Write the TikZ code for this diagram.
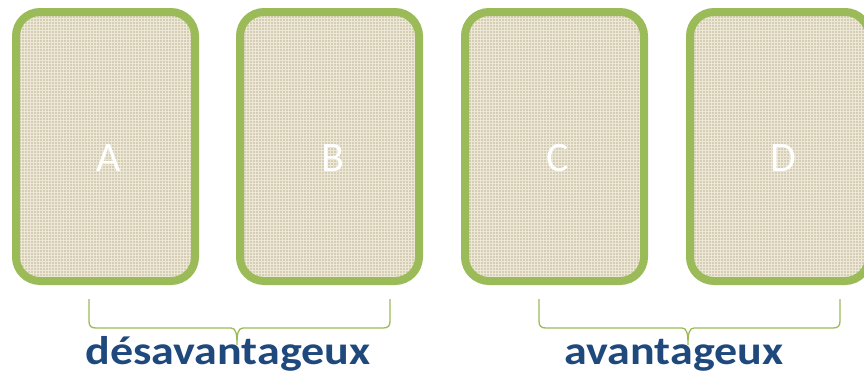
\documentclass[tikz,border=0pt]{standalone}
\usepackage{fontspec}
\setmainfont{Carlito}
\newfontfamily\widefont[FakeStretch=1.15]{Carlito}
\usetikzlibrary{patterns}
\definecolor{cardgreen}{HTML}{9BBB59}
\definecolor{cardfill}{HTML}{D6CDB6}
\definecolor{cardweave}{HTML}{EDE7D6}
\definecolor{labelblue}{HTML}{1F497D}
\begin{document}
\begin{tikzpicture}[x=1pt,y=-1pt,
	card/.style={draw=cardgreen,line width=8pt,rounded corners=24pt,
		preaction={fill=cardfill},pattern=grid,pattern color=cardweave,
		minimum width=179pt,minimum height=269pt,inner sep=0pt},
	letter/.style={text=white,font=\fontsize{42}{42}\selectfont,anchor=base},
	brace/.style={draw=cardgreen,line width=1.3pt},
	verdict/.style={text=labelblue,font=\widefont\fontsize{40}{40}\selectfont\bfseries,anchor=base}]
	\useasboundingbox (0,0) rectangle (864,375);
	\begin{scope}
		\clip (0,0) rectangle (864,375);
		\node[card] (cardA) at (105.5,146.5) {};
		\node[card] (cardB) at (329.5,146.5) {};
		\node[card] (cardC) at (554.5,146.5) {};
		\node[card] (cardD) at (779.5,146.5) {};
	\end{scope}
	\node[letter] (lblA) at (109,171) {A};
	\node[letter] (lblB) at (333,171) {B};
	\node[letter] (lblC) at (558,171) {C};
	\node[letter] (lblD) at (783,171) {D};
	%\draw (0,0) node[right]{Paires};
	\foreach \l/\m/\r in {89/237/390, 539/688/840}
		\draw[brace] (\l,299) -- (\l,321) .. controls (\l,326) and (\l+2,328) .. (\l+7,328)
			-- (\m-6,328) .. controls (\m-1,328) and (\m,334) .. (\m,345)
			.. controls (\m,334) and (\m+1,328) .. (\m+6,328)
			-- (\r-7,328) .. controls (\r-2,328) and (\r,326) .. (\r,321) -- (\r,299);
	\node[verdict] (neg) at (228,364) {désavantageux};
	\node[verdict] (pos) at (674,364) {avantageux};
\end{tikzpicture}
\end{document}
